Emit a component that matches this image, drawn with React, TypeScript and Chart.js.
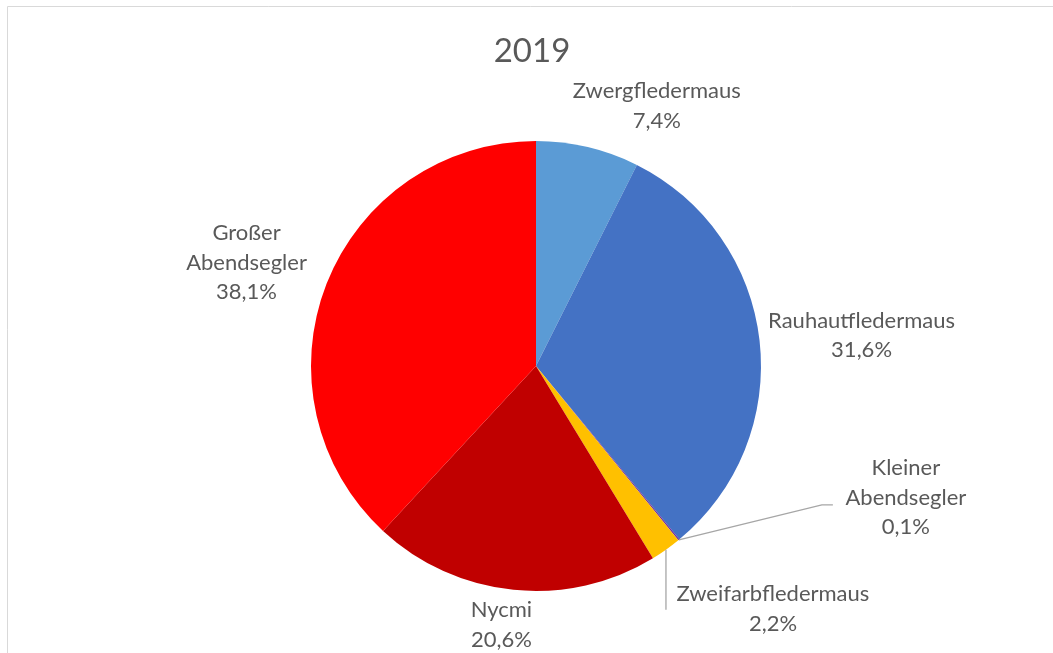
import React, { useEffect, useRef } from "react";
import { Chart, registerables } from "chart.js";

Chart.register(...registerables);

const title = "2019";
const categories = [
  "Zwergfledermaus",
  "Rauhautfledermaus",
  "Kleiner Abendsegler",
  "Zweifarbfledermaus",
  "Nycmi",
  "Großer Abendsegler",
];
const values = [7.4, 31.6, 0.1, 2.2, 20.6, 38.1];
const labelLines = [
  ["Zwergfledermaus"],
  ["Rauhautfledermaus"],
  ["Kleiner", "Abendsegler"],
  ["Zweifarbfledermaus"],
  ["Nycmi"],
  ["Großer", "Abendsegler"],
];
const colors = ["#5B9BD5", "#4472C4", "#7030A0", "#FFC000", "#C00000", "#FF0000"];

// label placement (style), relative to the outer mid-point of each slice
const labelOffsets = [
  { dx: 69, dy: -41 },
  { dx: 102, dy: -5 },
  { dx: 227, dy: -42, leader: [[143, -35], [154, -35]] },
  { dx: 107, dy: 59, leader: [[0, 60]] },
  { dx: -12, dy: 35 },
  { dx: -80, dy: -21 },
];

const FONT = "Lato, 'Open Sans', sans-serif";
const TEXT = "#595959";

const fmt = (v: number) => v.toFixed(1).replace(".", ",") + "%";

const decorPlugin = {
  id: "decor",
  afterDatasetsDraw(chart: any) {
    const ctx = chart.ctx;
    const meta = chart.getDatasetMeta(0);
    const total = values.reduce((a, b) => a + b, 0);
    ctx.save();
    // frame
    ctx.strokeStyle = "#D9D9D9";
    ctx.lineWidth = 1;
    ctx.beginPath();
    ctx.moveTo(7.5, 653);
    ctx.lineTo(7.5, 6.5);
    ctx.lineTo(1053, 6.5);
    ctx.stroke();

    // title
    ctx.fillStyle = TEXT;
    ctx.font = `33px ${FONT}`;
    ctx.textAlign = "center";
    ctx.textBaseline = "middle";
    ctx.fillText(title, 532, 51);

    ctx.font = `22px ${FONT}`;
    const lh = 29.5;
    meta.data.forEach((arc: any, i: number) => {
      const p = arc.getProps(["x", "y", "startAngle", "endAngle", "outerRadius"], true);
      const a = (p.startAngle + p.endAngle) / 2;
      const ax = p.x + Math.cos(a) * p.outerRadius;
      const ay = p.y + Math.sin(a) * p.outerRadius;
      const off = labelOffsets[i];
      if (off.leader) {
        ctx.strokeStyle = "#A6A6A6";
        ctx.lineWidth = 1.3;
        ctx.beginPath();
        ctx.moveTo(ax, ay);
        off.leader.forEach((pt: number[]) => ctx.lineTo(ax + pt[0], ay + pt[1]));
        ctx.stroke();
      }
      const lines = [...labelLines[i], fmt((values[i] / total) * 100)];
      const cx = ax + off.dx;
      const cy = ay + off.dy;
      const top = cy - ((lines.length - 1) * lh) / 2;
      ctx.fillStyle = TEXT;
      lines.forEach((t, k) => ctx.fillText(t, cx, top + k * lh));
    });
    ctx.restore();
  },
};

export default function App() {
  const ref = useRef<HTMLCanvasElement>(null);
  useEffect(() => {
    if (!ref.current) return;
    const chart = new Chart(ref.current, {
      type: "pie",
      data: {
        labels: categories,
        datasets: [
          {
            data: values,
            backgroundColor: colors,
            borderWidth: 0,
          },
        ],
      },
      options: {
        animation: false,
        responsive: false,
        events: [],
        layout: { padding: { left: 311, right: 292, top: 141, bottom: 62 } },
        plugins: { legend: { display: false }, tooltip: { enabled: false }, title: { display: false } },
      },
      plugins: [decorPlugin],
    });
    return () => chart.destroy();
  }, []);
  return (
    <div style={{ position: "absolute", left: 0, top: 0, width: 1053, height: 653, background: "#fff" }}>
      <canvas ref={ref} width={1053} height={653} />
    </div>
  );
}
